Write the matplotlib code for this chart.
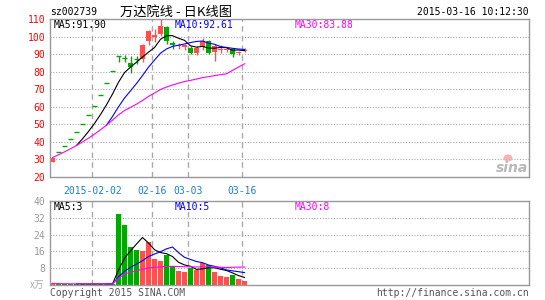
import matplotlib
matplotlib.use("Agg")
import matplotlib.pyplot as plt
import numpy as np
import pandas as pd
from matplotlib.patches import Ellipse

# trading days shown on the chart
dates = ["2015-01-22", "2015-01-23", "2015-01-26", "2015-01-27", "2015-01-28",
         "2015-01-29", "2015-01-30", "2015-02-02", "2015-02-03", "2015-02-04",
         "2015-02-05", "2015-02-06", "2015-02-09", "2015-02-10", "2015-02-11",
         "2015-02-12", "2015-02-13", "2015-02-16", "2015-02-17", "2015-02-25",
         "2015-02-26", "2015-02-27", "2015-03-02", "2015-03-03", "2015-03-04",
         "2015-03-05", "2015-03-06", "2015-03-09", "2015-03-10", "2015-03-11",
         "2015-03-12", "2015-03-13", "2015-03-16"]

opens = [28.8, 34.21, 37.63, 41.39, 45.53, 50.08, 55.09, 60.60, 66.66, 73.33,
         80.66, 88.73, 88.0, 84.8, 87.3, 87.4, 97.3, 99.8, 101.5, 105.6,
         96.1, 94.6, 94.2, 93.4, 90.8, 94.2, 97.6, 91.2, 92.4, 92.3,
         93.0, 90.6, 92.0]
highs = [31.1, 34.21, 37.63, 41.39, 45.53, 50.08, 55.09, 60.60, 66.66, 73.33,
         80.66, 88.73, 89.6, 88.8, 89.2, 95.6, 103.8, 104.2, 110.0, 106.2,
         97.6, 96.6, 96.0, 94.6, 94.6, 99.0, 98.0, 95.6, 95.2, 94.0,
         93.6, 92.0, 93.6]
lows = [28.8, 34.21, 37.63, 41.39, 45.53, 50.08, 55.09, 60.60, 66.66, 73.33,
        80.66, 85.5, 85.3, 79.3, 84.4, 85.3, 95.0, 96.8, 100.6, 95.8,
        93.0, 93.0, 92.6, 90.1, 89.4, 92.6, 89.9, 85.8, 90.6, 91.0,
        88.4, 89.4, 91.1]
closes = [31.1, 34.21, 37.63, 41.39, 45.53, 50.08, 55.09, 60.60, 66.66, 73.33,
          80.66, 88.73, 87.9, 82.5, 87.2, 95.2, 102.9, 100.8, 106.1, 97.4,
          95.4, 95.4, 95.0, 90.5, 93.5, 97.5, 90.8, 94.5, 92.8, 92.7,
          90.3, 91.4, 92.6]
volumes = [0.8, 0.5, 0.5, 0.5, 0.5, 0.5, 0.5, 0.5, 0.5, 0.5,
           0.5, 33.7, 28.5, 18.1, 16.8, 16.0, 20.5, 12.5, 11.4, 14.2,
           9.2, 6.8, 6.2, 8.0, 7.0, 10.5, 9.3, 6.2, 4.5, 4.0,
           4.8, 2.9, 1.7]

tick_dates = ["2015-02-02", "2015-02-16", "2015-03-03", "2015-03-16"]
tick_labels = ["2015-02-02", "02-16", "03-03", "03-16"]
price_ticks = [20, 30, 40, 50, 60, 70, 80, 90, 100, 110]
vol_ticks = [8, 16, 24, 32, 40]

RED = "#ff5050"
GREEN = "#00a800"
MONO = "DejaVu Sans Mono"
CJK = ["Noto Sans CJK SC", "DejaVu Sans"]

W, H = 545, 300
fig = plt.figure(figsize=(W / 100, H / 100), dpi=100)
fig.patch.set_facecolor("white")


def box(x0, y0, x1, y1):
    return [x0 / W, 1 - y1 / H, (x1 - x0) / W, (y1 - y0) / H]


ax = fig.add_axes(box(50, 19, 529, 177))
axv = fig.add_axes(box(50, 201, 529, 285))

x = np.arange(len(dates))
o = np.array(opens)
c = np.array(closes)
colors = [RED if cc > oo else GREEN for oo, cc in zip(opens, closes)]

# candles
ax.vlines(x, lows, highs, colors=colors, linewidth=1)
body = np.abs(c - o)
flat = body < 0.3
ax.bar(x[~flat], body[~flat], bottom=np.minimum(o, c)[~flat], width=0.8,
       color=np.array(colors)[~flat], linewidth=0)
ax.hlines(c[flat], x[flat] - 0.4, x[flat] + 0.4,
          colors=np.array(colors)[flat], linewidth=1)

s = pd.Series(closes)
ax.plot(x, s.rolling(5).mean(), color="black", lw=0.8)
ax.plot(x, s.rolling(10).mean(), color="#0000ff", lw=0.8)
ax.plot(x, s.rolling(30, min_periods=1).mean(), color="#ff00ff", lw=0.8)

# volume
axv.bar(x, volumes, width=0.8, color=colors, linewidth=0)
v = pd.Series(volumes)
axv.plot(x, v.rolling(5).mean(), color="black", lw=0.8)
axv.plot(x, v.rolling(10).mean(), color="#0000ff", lw=0.8)
axv.plot(x, v.rolling(30, min_periods=1).mean(), color="#ff00ff", lw=0.8)

tick_pos = [dates.index(d) - 0.35 for d in tick_dates]
for a in (ax, axv):
    a.set_xlim(-0.42, 79.42)
    for p in tick_pos:
        a.axvline(p, color="#aaaaaa", lw=1, ls=(0, (4, 3)), zorder=0)
    for sp in a.spines.values():
        sp.set_color("#999999")
        sp.set_linewidth(1)
    a.tick_params(length=0)
    a.set_xticks([])

ax.set_ylim(20, 110)
ax.set_yticks(price_ticks)
ax.set_yticklabels([str(t) for t in price_ticks], color="red",
                   fontfamily=MONO, fontsize=7)
for t in price_ticks[1:-1]:
    ax.axhline(t, color="#aaaaaa", lw=0.8, ls=(0, (1, 1.5)), zorder=0)

axv.set_ylim(0, 40)
axv.set_yticks(vol_ticks)
axv.set_yticklabels([str(t) for t in vol_ticks], color="#999999",
                    fontfamily=MONO, fontsize=7)
for t in vol_ticks[:-1]:
    axv.axhline(t, color="#aaaaaa", lw=0.8, ls=(0, (1, 1.5)), zorder=0)

# date labels
for p, lab in zip(tick_pos, tick_labels):
    ax.text(p, -0.058, lab, transform=ax.get_xaxis_transform(),
            ha="center", va="top", color="#1a7fcf", fontfamily=MONO, fontsize=7)


def ftext(px, py, s, **kw):
    fig.text(px / W, 1 - py / H, s, **kw)


ftext(50, 12, "sz002739", ha="left", va="center", fontfamily=MONO, fontsize=7)
ftext(120, 12, "万达院线 - 日K线图", ha="left", va="center", family=CJK, fontsize=9.5)
ftext(529, 12, "2015-03-16 10:12:30", ha="right", va="center",
      fontfamily=MONO, fontsize=7)

ftext(54, 24.5, "MA5:91.90", ha="left", va="center", fontfamily=MONO, fontsize=7)
ftext(175, 24.5, "MA10:92.61", ha="left", va="center", color="#0000ff",
      fontfamily=MONO, fontsize=7)
ftext(295, 24.5, "MA30:83.88", ha="left", va="center", color="#ff00ff",
      fontfamily=MONO, fontsize=7)

ftext(54, 207, "MA5:3", ha="left", va="center", fontfamily=MONO, fontsize=7)
ftext(175, 207, "MA10:5", ha="left", va="center", color="#0000ff",
      fontfamily=MONO, fontsize=7)
ftext(295, 207, "MA30:8", ha="left", va="center", color="#ff00ff",
      fontfamily=MONO, fontsize=7)

ftext(44, 285, "x万", ha="right", va="center", color="#aaaaaa", family=CJK,
      fontsize=7, style="italic")
ftext(50, 293, "Copyright 2015 SINA.COM", ha="left", va="center",
      color="#555555", fontfamily=MONO, fontsize=7)
ftext(529, 293, "http://finance.sina.com.cn", ha="right", va="center",
      color="#555555", fontfamily=MONO, fontsize=7)

# sina watermark
ftext(512, 168, "sina", ha="center", va="center", color="#b8b8b8",
      fontsize=10, fontweight="bold", style="italic")
fig.patches.append(Ellipse((508 / W, 1 - 158 / H), 9 / W, 7 / H,
                           transform=fig.transFigure, facecolor="#f7a0a0",
                           edgecolor="none", alpha=0.8))

fig.savefig("out.png", dpi=100)
